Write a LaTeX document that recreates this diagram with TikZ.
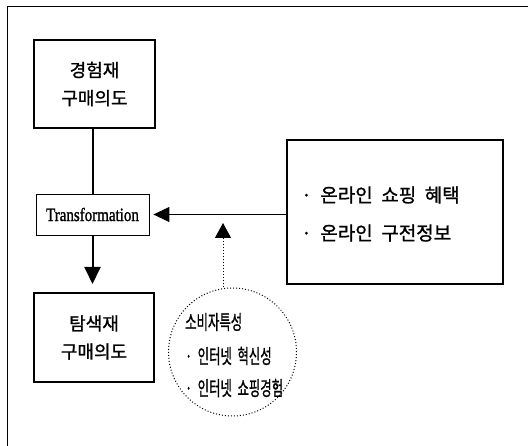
\documentclass[tikz,border=0pt]{standalone}
\usepackage{fontspec}
\usepackage{graphicx}
\setmainfont{Liberation Serif}
\newfontfamily\kr{Noto Sans CJK KR}[FakeBold=1.2, WordSpace=2]
\newfontfamily\trf{Liberation Serif}[FakeBold=1.5]
\usetikzlibrary{arrows.meta}
\tikzset{
  thickbox/.style={draw, line width=2pt, rectangle, inner sep=0pt},
  krtext/.style={font=\kr\fontsize{18}{28}\selectfont, align=center},
  listtext/.style={font=\kr\fontsize{19}{38}\selectfont, align=left, anchor=west, inner sep=0pt},
  circtext/.style={font=\kr\fontsize{20}{20}\selectfont, anchor=west, inner sep=0pt},
  bigtip/.style={-{Triangle[width=16pt,length=17pt]}},
}
\begin{document}
\begin{tikzpicture}[x=1pt,y=-1pt]
\useasboundingbox (0,0) rectangle (528,446);
% frame
\draw[line width=0.8pt] (528,6) -- (7.5,6) -- (7.5,446);
% boxes
\node[thickbox, minimum width=121pt, minimum height=88pt, krtext] (b1) at (94.5,84) {경험재\\구매의도};
\node[draw, line width=0.8pt, minimum width=113pt, minimum height=41pt, inner sep=0pt,
      font=\trf\fontsize{15}{15}\selectfont] (tr) at (92.5,214.5) {\scalebox{1}[1.25]{Transformation}};
\node[thickbox, minimum width=120pt, minimum height=89pt, krtext] (b2) at (94,337.5) {탐색재\\구매의도};
\node[thickbox, line width=2.3pt, minimum width=216pt, minimum height=144pt] (rb) at (395,212) {};
\node[listtext] (rt) at (301,214) {· 온라인 쇼핑 혜택\\· 온라인 구전정보};
% circle
\node[draw, circle, dotted, line width=1pt, minimum size=128pt, inner sep=0pt] (ci) at (232.5,352) {};
\node[circtext] (c1) at (185,322) {\scalebox{0.62}[1]{소비자특성}};
\node[circtext] (c2) at (185,356) {\scalebox{0.62}[1]{· 인터넷 혁신성}};
\node[circtext] (c3) at (185,388) {\scalebox{0.62}[1]{· 인터넷 쇼핑경험}};
% connectors
\draw[line width=2pt] (tr.north) -- (tr.north |- b1.south);
\draw[line width=2pt, bigtip, shorten >=8pt] (tr.south) -- (tr.south |- b2.north);
\draw[line width=0.9pt, -{Triangle[width=15pt,length=16pt]}, shorten >=4pt] (rb.west |- tr.east) -- (tr.east);
\coordinate (tip) at (223,223);
\draw[line width=1pt, dotted, -{Triangle[width=16pt,length=15pt]}] (tip |- ci.north) -- (tip);
\end{tikzpicture}
\end{document}
